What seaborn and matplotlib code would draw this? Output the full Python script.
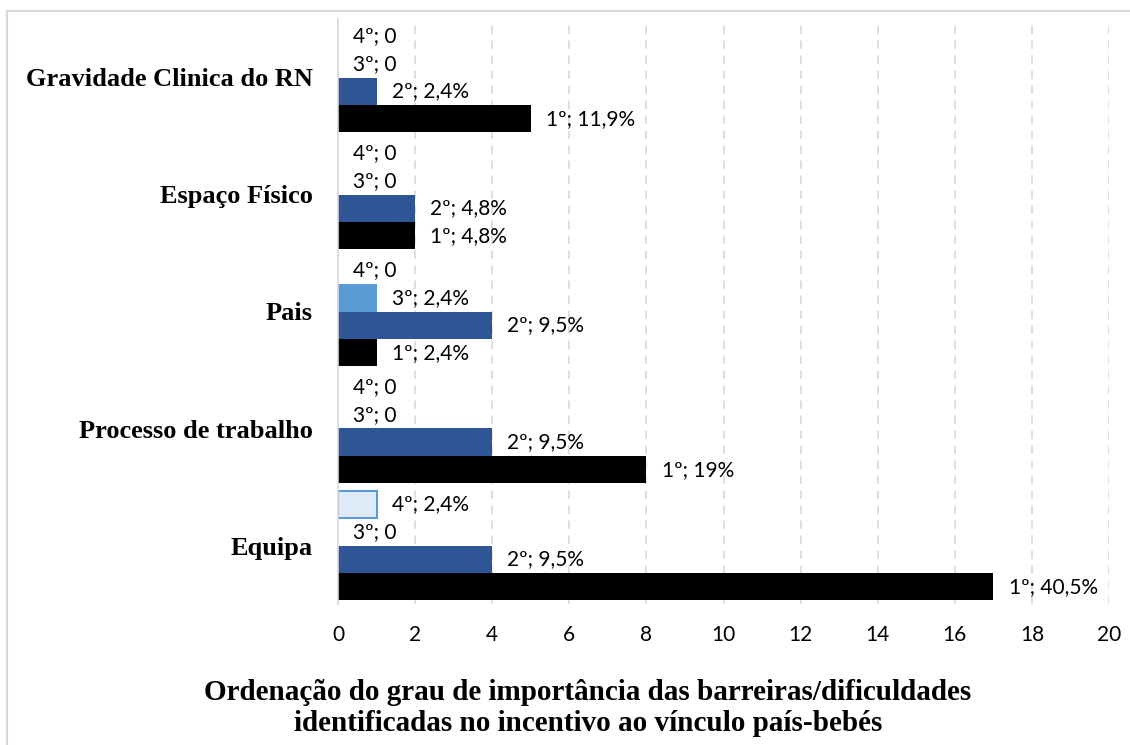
import matplotlib
matplotlib.use("Agg")
import matplotlib.pyplot as plt
from matplotlib.patches import Rectangle
import seaborn as sns
import pandas as pd

# categories, top to bottom
categories = ["Gravidade Clinica do RN", "Espaço Físico", "Pais",
              "Processo de trabalho", "Equipa"]
ranks = ["4º", "3º", "2º", "1º"]

# counts per rank (x axis)
first = [5, 2, 1, 8, 17]
second = [1, 2, 4, 4, 4]
third = [0, 0, 1, 0, 0]
fourth = [0, 0, 0, 0, 1]

# data labels as printed on the chart
first_lbl = ["11,9%", "4,8%", "2,4%", "19%", "40,5%"]
second_lbl = ["2,4%", "4,8%", "9,5%", "9,5%", "9,5%"]
third_lbl = ["0", "0", "2,4%", "0", "0"]
fourth_lbl = ["0", "0", "0", "0", "2,4%"]

values = {"4º": fourth, "3º": third, "2º": second, "1º": first}
labels = {"4º": fourth_lbl, "3º": third_lbl, "2º": second_lbl, "1º": first_lbl}

rows = []
for r in ranks:
    for c, v in zip(categories, values[r]):
        rows.append({"categoria": c, "ordem": r, "n": v})
df = pd.DataFrame(rows)

palette = {"4º": "#deebf7", "3º": "#5b9bd5", "2º": "#2f5597", "1º": "#000000"}

fig = plt.figure(figsize=(11.3, 7.45), dpi=100)
ax = fig.add_axes([338 / 1130, 1 - 604 / 745, (1109 - 338) / 1130, (604 - 19) / 745])

sns.barplot(data=df, y="categoria", x="n", hue="ordem", order=categories,
            hue_order=ranks, palette=palette, orient="h", width=0.94,
            gap=0, linewidth=0, saturation=1, legend=False, ax=ax)

# light bar gets a blue outline (only where it has a length)
for bar in ax.containers[0]:
    if bar.get_width() > 0:
        bar.set_edgecolor("#5b9bd5")
        bar.set_linewidth(1.5)

for cont, r in zip(ax.containers, ranks):
    txt = [f"{r}; {l}" for l in labels[r]]
    ax.bar_label(cont, labels=txt, padding=11, fontsize=15,
                 family="Lato", color="#000000")

ax.set_xlim(0, 20)
ax.set_xticks(range(0, 21, 2))
ax.set_ylabel("")
ax.set_xlabel("")
ax.xaxis.grid(True, linestyle=(0, (5, 4)), color="#d9d9d9", linewidth=1.2)
ax.set_axisbelow(True)
for s in ["top", "right", "bottom"]:
    ax.spines[s].set_visible(False)
ax.spines["left"].set_color("#d9d9d9")
ax.spines["left"].set_linewidth(1.2)
ax.tick_params(axis="both", length=0)
ax.tick_params(axis="x", pad=15, labelsize=15)
ax.tick_params(axis="y", pad=18)
for t in ax.get_xticklabels():
    t.set_family("Lato")
for t in ax.get_yticklabels():
    t.set_family("Liberation Serif")
    t.set_fontweight("bold")
    t.set_fontsize(19)

fig.text(588 / 1130, 1 - 708 / 745,
         "Ordenação do grau de importância das barreiras/dificuldades\n"
         "identificadas no incentivo ao vínculo país-bebés",
         ha="center", va="center", family="Liberation Serif",
         fontweight="bold", fontsize=21, linespacing=1.2)

# chart area border
fig.add_artist(Rectangle((7 / 1130, -0.1), 1.2, 1.1 - 11 / 745, fill=False,
                         edgecolor="#d9d9d9", linewidth=1.5,
                         transform=fig.transFigure))

fig.savefig("out.png", dpi=100)
